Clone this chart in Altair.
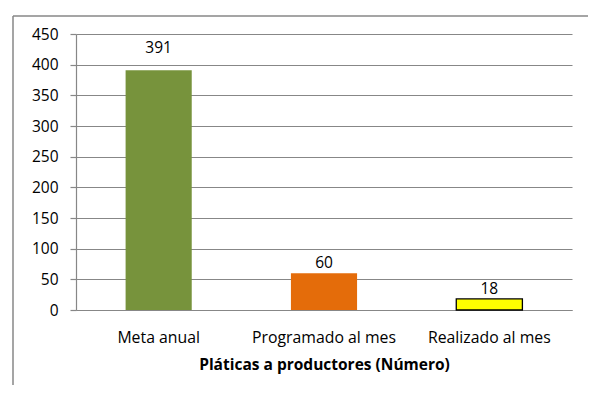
import altair as alt
import pandas as pd

categories = ["Meta anual", "Programado al mes", "Realizado al mes"]
values = [391, 60, 18]
fill_colors = ["#77933C", "#E46C0A", "#FFFF00"]
stroke_colors = ["#77933C", "#E46C0A", "#000000"]
y_ticks = [0, 50, 100, 150, 200, 250, 300, 350, 400, 450]
x_title = "Pláticas a productores (Número)"

df = pd.DataFrame({"cat": categories, "val": values})

FONT = "Open Sans"
GRAY = "#878787"

x_enc = alt.X(
    "cat:N",
    sort=categories,
    title=x_title,
    scale=alt.Scale(paddingInner=0.6, paddingOuter=0.3),
    axis=alt.Axis(
        labelAngle=0,
        ticks=False,
        domainColor=GRAY,
        domainWidth=1.2,
        labelFont=FONT,
        labelFontSize=15.8,
        labelColor="#000000",
        labelPadding=20,
        titleFont=FONT,
        titleFontSize=15.5,
        titleFontWeight="bold",
        titleColor="#000000",
        titlePadding=13,
    ),
)
y_enc = alt.Y(
    "val:Q",
    scale=alt.Scale(domain=[0, 450], nice=False),
    axis=alt.Axis(
        values=y_ticks,
        title=None,
        grid=True,
        gridColor=GRAY,
        gridWidth=1.2,
        tickColor=GRAY,
        tickWidth=1.2,
        tickSize=6,
        domainColor=GRAY,
        domainWidth=1.2,
        labelFont=FONT,
        labelFontSize=15.5,
        labelColor="#000000",
        labelPadding=12,
        labelOverlap=False,
        labelFlush=False,
    ),
)

bars = alt.Chart(df).mark_bar().encode(
    x=x_enc,
    y=y_enc,
    color=alt.Color("cat:N", scale=alt.Scale(domain=categories, range=fill_colors), legend=None),
    stroke=alt.Stroke("cat:N", scale=alt.Scale(domain=categories, range=stroke_colors), legend=None),
    strokeWidth=alt.condition(alt.datum.val < 50, alt.value(1.3), alt.value(0)),
)

text_base = alt.Chart(df).encode(
    x=x_enc,
    y=y_enc,
    text=alt.Text("val:Q"),
)
labels_big = text_base.transform_filter(alt.datum.val > 100).mark_text(
    font=FONT, fontSize=15.5, color="#000000", baseline="alphabetic", dy=-17
)
labels_small = text_base.transform_filter(alt.datum.val <= 100).mark_text(
    font=FONT, fontSize=15.5, color="#000000", baseline="alphabetic", dy=-5
)

one_row = alt.datum.val > 100
frame_left = alt.Chart(df).transform_filter(one_row).mark_rule(
    color=GRAY, strokeWidth=1.5
).encode(x=alt.value(-63), y=alt.value(-18), y2=alt.value(420))
frame_top = alt.Chart(df).transform_filter(one_row).mark_rule(
    color=GRAY, strokeWidth=1.5
).encode(x=alt.value(-63), x2=alt.value(560), y=alt.value(-18), y2=alt.value(-18))

chart = alt.layer(bars, labels_big, labels_small, frame_left, frame_top).properties(
    width=496,
    height=276,
    autosize=alt.AutoSizeParams(type="none"),
    padding={"left": 68, "top": 26, "right": 16, "bottom": 75},
    background="#ffffff",
).configure_view(stroke=None)

chart.save("out.html", embed_options={"renderer": "svg", "actions": False})
